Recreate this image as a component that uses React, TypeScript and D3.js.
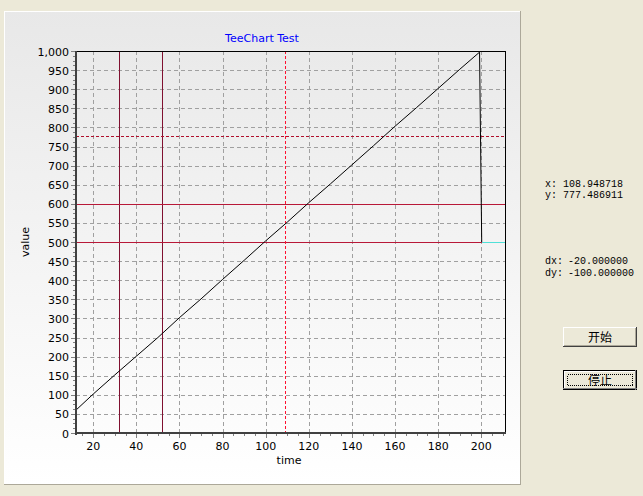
import React from "react";
import * as d3 from "d3";

const seriesX = [12, 20, 30, 40, 50, 60, 70, 80, 90, 100, 110, 120, 130, 140, 150, 160, 170, 180, 190, 199.2, 200.2];
const seriesY = [60, 102, 152, 201, 250, 302, 351, 402, 452, 503, 552, 603, 652, 702, 752, 803, 852, 902, 952, 997, 500];
const xTicks = [20, 40, 60, 80, 100, 120, 140, 160, 180, 200];
const yTicks = d3.range(0, 1001, 50);
const vSolid = [32, 52];
const hSolid = [600, 500];
const cursorX = 108.948718;
const cursorY = 777.486911;
const cyanLevel = 500;
const infoLines = [
  { label: "x", value: "108.948718" },
  { label: "y", value: "777.486911" },
  { label: "dx", value: "-20.000000" },
  { label: "dy", value: "-100.000000" },
];
const buttonLabels = ["开始", "停止"];

const W = 643;
const H = 496;
const L = 76, R = 505, T = 51, B = 433;

export default function App() {
  const x = d3.scaleLinear().domain([12, 211]).range([L, R]);
  const y = d3.scaleLinear().domain([0, 1000]).range([B, T]);
  const line = d3
    .line<number>()
    .x((_, i) => x(seriesX[i]))
    .y((d) => y(d));
  const font = "'DejaVu Sans', sans-serif";
  const minorX: number[] = [];
  for (let v = 10; v <= 211; v += 5) if (v % 20 !== 0 && v >= 12) minorX.push(v);
  const minorY: number[] = [];
  for (let v = 0; v <= 1000; v += 12.5) if (v % 50 !== 0) minorY.push(v);
  const infoY = [187, 198, 264, 276];
  const cx = Math.round(x(cursorX));
  const cy = Math.round(y(cursorY)) + 0.5;
  const dashYs = d3.range(T, B, 5);
  return (
    <div style={{ position: "absolute", left: 0, top: 0 }}>
      <svg width={W} height={H} style={{ display: "block" }}>
        <defs>
          <linearGradient id="pg" x1="0" y1="0" x2="0" y2="1">
            <stop offset="0" stopColor="#e8e8e8" />
            <stop offset="1" stopColor="#ffffff" />
          </linearGradient>
        </defs>
        <rect x={0} y={0} width={W} height={H} fill="#ece9d8" />
        <rect x={4} y={11} width={516} height={473} fill="url(#pg)" />
        <line x1={4.5} y1={11} x2={4.5} y2={484} stroke="#ffffff" />
        <line x1={4} y1={11.5} x2={520} y2={11.5} stroke="#ffffff" />
        <line x1={520.5} y1={11} x2={520.5} y2={485} stroke="#aca899" />
        <line x1={4} y1={484.5} x2={521} y2={484.5} stroke="#aca899" />

        <text x={262} y={42} textAnchor="middle" fontFamily={font} fontSize={11} fill="#0000ff">
          TeeChart Test
        </text>

        {/* grid */}
        <g stroke="#a0a0a0" strokeDasharray="4,3" shapeRendering="crispEdges">
          {yTicks.filter((v) => v > 0 && v < 1000).map((v) => (
            <line key={"gy" + v} x1={L} x2={R} y1={Math.round(y(v)) + 0.5} y2={Math.round(y(v)) + 0.5} />
          ))}
          {xTicks.map((v) => (
            <line key={"gx" + v} x1={Math.round(x(v)) + 0.5} x2={Math.round(x(v)) + 0.5} y1={T} y2={B} />
          ))}
        </g>

        {/* cursor lines */}
        <g shapeRendering="crispEdges">
          {vSolid.map((v) => (
            <line key={"vs" + v} x1={Math.round(x(v)) + 0.5} x2={Math.round(x(v)) + 0.5} y1={T} y2={B} stroke="#801030" />
          ))}
          {hSolid.map((v) => (
            <line key={"hs" + v} x1={L} x2={R} y1={Math.round(y(v)) + 0.5} y2={Math.round(y(v)) + 0.5} stroke="#b81838" />
          ))}
          {dashYs.map((dy) => (
            <rect key={"cd" + dy} x={cx} y={dy} width={1} height={3} fill="#ff1030" />
          ))}
          <path d={`M${L},${cy}H${R}`} fill="none" stroke="#b0102c" strokeWidth={1} strokeDasharray="3,2" />
          <line x1={x(seriesX[seriesX.length - 1])} x2={R} y1={Math.round(y(cyanLevel)) + 0.5} y2={Math.round(y(cyanLevel)) + 0.5} stroke="#50e0d8" />
        </g>

        {/* series */}
        <path d={line(seriesY) || ""} fill="none" stroke="#000" strokeWidth={1} />

        {/* frame */}
        <g shapeRendering="crispEdges">
          <line x1={L} x2={R + 1} y1={T + 0.5} y2={T + 0.5} stroke="#000" />
          <line x1={R + 0.5} x2={R + 0.5} y1={T} y2={B} stroke="#000" />
          <line x1={L} x2={L} y1={T} y2={B + 2} stroke="#404040" strokeWidth={2} />
          <line x1={L - 1} x2={R + 1} y1={B} y2={B} stroke="#404040" strokeWidth={2} />
        </g>

        {/* ticks */}
        <g stroke="#808080" shapeRendering="crispEdges">
          {yTicks.map((v) => (
            <line key={"ty" + v} x1={71} x2={75} y1={Math.round(y(v)) + 0.5} y2={Math.round(y(v)) + 0.5} />
          ))}
          {minorY.map((v) => (
            <line key={"my" + v} x1={73} x2={75} y1={Math.round(y(v)) + 0.5} y2={Math.round(y(v)) + 0.5} />
          ))}
          {xTicks.map((v) => (
            <line key={"tx" + v} x1={Math.round(x(v)) + 0.5} x2={Math.round(x(v)) + 0.5} y1={434} y2={438} />
          ))}
          {minorX.map((v) => (
            <line key={"mx" + v} x1={Math.round(x(v)) + 0.5} x2={Math.round(x(v)) + 0.5} y1={434} y2={436} />
          ))}
        </g>

        {/* tick labels */}
        <g fontFamily={font} fontSize={11} fill="#000">
          {yTicks.map((v) => (
            <text key={"ly" + v} x={69} y={y(v) + 4.5} textAnchor="end">
              {d3.format(",")(v)}
            </text>
          ))}
          {xTicks.map((v) => (
            <text key={"lx" + v} x={x(v)} y={450} textAnchor="middle">
              {v}
            </text>
          ))}
          <text x={289} y={464} textAnchor="middle">time</text>
          <text transform={`translate(29,${(T + B) / 2}) rotate(-90)`} textAnchor="middle">value</text>
        </g>

        {/* info text */}
        <g fontFamily="'Liberation Mono', monospace" fontSize={10} fill="#000">
          {infoLines.map((d, i) => (
            <g key={d.label}>
              <text x={545} y={infoY[i]}>{d.label}:</text>
              <text x={d.label.length > 1 ? 568 : 563} y={infoY[i]}>{d.value}</text>
            </g>
          ))}
        </g>

        {/* buttons */}
        {buttonLabels.map((lab, i) => {
          const bx = 563, by = i === 0 ? 327 : 370, bw = 74, bh = 20;
          return (
            <g key={lab} shapeRendering="crispEdges">
              <rect x={bx} y={by} width={bw} height={bh} fill="#ece9d8" />
              {i === 1 && <rect x={bx + 0.5} y={by + 0.5} width={bw - 1} height={bh - 1} fill="none" stroke="#000" />}
              <line x1={bx + (i ? 1 : 0)} y1={by + (i ? 1.5 : 0.5)} x2={bx + bw - 1} y2={by + (i ? 1.5 : 0.5)} stroke="#fff" />
              <line x1={bx + (i ? 1.5 : 0.5)} y1={by + (i ? 1 : 0)} x2={bx + (i ? 1.5 : 0.5)} y2={by + bh - 1} stroke="#fff" />
              <line x1={bx} y1={by + bh - (i ? 1.5 : 0.5)} x2={bx + bw} y2={by + bh - (i ? 1.5 : 0.5)} stroke={i ? "#808080" : "#404040"} />
              <line x1={bx + bw - (i ? 1.5 : 0.5)} y1={by} x2={bx + bw - (i ? 1.5 : 0.5)} y2={by + bh} stroke={i ? "#808080" : "#404040"} />
              {i === 0 && (
                <>
                  <line x1={bx + 1} y1={by + bh - 1.5} x2={bx + bw - 1} y2={by + bh - 1.5} stroke="#aca899" />
                  <line x1={bx + bw - 1.5} y1={by + 1} x2={bx + bw - 1.5} y2={by + bh - 1} stroke="#aca899" />
                </>
              )}
              {i === 1 && (
                <rect x={bx + 4.5} y={by + 4.5} width={bw - 9} height={bh - 9} fill="none" stroke="#000" strokeDasharray="1,1" />
              )}
              <text x={bx + bw / 2} y={by + 14.5} textAnchor="middle" fontFamily="'Noto Sans CJK SC', sans-serif" fontSize={12} fill="#000">
                {lab}
              </text>
            </g>
          );
        })}
      </svg>
    </div>
  );
}
